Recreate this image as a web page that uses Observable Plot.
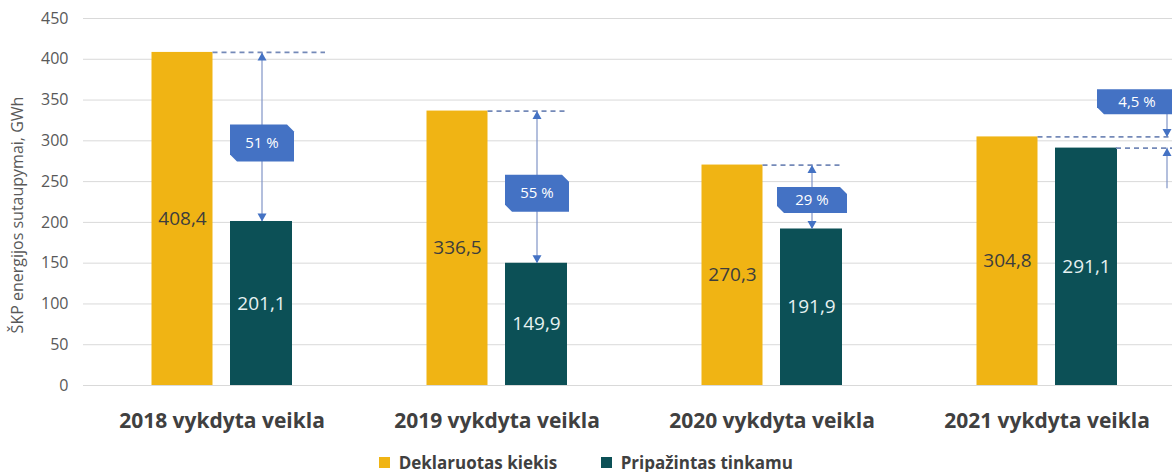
<!DOCTYPE html>
<html><head><meta charset="utf-8">
<script src="https://cdn.jsdelivr.net/npm/d3@7"></script>
<script src="https://cdn.jsdelivr.net/npm/@observablehq/plot@0.6"></script>
<style>
html,body{margin:0;padding:0;background:#fff;}
#chart svg{display:block;}
#chart g[aria-label="x-axis"] text, #chart g[aria-label="x-axis tick label"] text {font-size:21px;font-weight:700;fill:#404040;}
#chart g[aria-label="y-axis"] text, #chart g[aria-label="y-axis tick label"] text {font-size:16px;fill:#595959;}
#legend .lg-swatches{display:flex;justify-content:center;align-items:center;font-family:"Open Sans",sans-serif;font-size:17px;font-weight:700;color:#404040;margin:6px 0 0 0;min-height:32px;}
#legend .lg-swatch{margin-right:44px;}
#legend .lg-swatch:last-child{margin-right:0;}
</style></head>
<body><div id="chart"></div><div id="legend"></div>
<script>
// ---- data ----
const groups = ["2018 vykdyta veikla", "2019 vykdyta veikla", "2020 vykdyta veikla", "2021 vykdyta veikla"];
const declared = [408.4, 336.5, 270.3, 304.8];
const approved = [201.1, 149.9, 191.9, 291.1];
const gapLabels = ["51 %", "55 %", "29 %", "4,5 %"];
const series = ["Deklaruotas kiekis", "Pripažintas tinkamu"];
const yTicks = [0, 50, 100, 150, 200, 250, 300, 350, 400, 450];
const yLabel = "ŠKP energijos sutaupymai, GWh";

// ---- styles ----
const YELLOW = "#F0B414", TEAL = "#0C5056", BLUE = "#4472C4", DASH = "#7489b8", ARROW = "#8094c6";

const rows = groups.map((group, i) => ({
  group, declared: declared[i], approved: approved[i], gap: gapLabels[i],
  mid: (declared[i] + approved[i]) / 2
}));
const first = rows.slice(0, 1);
const middle = rows.slice(1, 3);
const inner = rows.slice(0, 3);
const big = rows.slice(0, 2);
const small = rows.slice(2, 3);
const last = rows.slice(3);
const fmt = v => d3.format(".1f")(v).replace(".", ",");

function callout(w, h, c = 7) {
  return {draw(ctx) {
    ctx.moveTo(-w / 2, -h / 2); ctx.lineTo(w / 2 - c, -h / 2); ctx.lineTo(w / 2, -h / 2 + c);
    ctx.lineTo(w / 2, h / 2); ctx.lineTo(-w / 2 + c, h / 2); ctx.lineTo(-w / 2, h / 2 - c); ctx.closePath();
  }};
}
const headUp = {draw(ctx) { ctx.moveTo(0, 0); ctx.lineTo(4.5, 8); ctx.lineTo(-4.5, 8); ctx.closePath(); }};
const headDown = {draw(ctx) { ctx.moveTo(0, 0); ctx.lineTo(4.5, -8); ctx.lineTo(-4.5, -8); ctx.closePath(); }};
const dash = {stroke: DASH, strokeWidth: 1.7, strokeDasharray: "5,4"};
const LIFT = 43; // 2021 callout sits above the declared line (GWh)
const TAIL = 50; // 2021 lower arrow tail length (GWh)

const chart = Plot.plot({
  width: 1172, height: 440,
  marginTop: 18, marginBottom: 55, marginLeft: 83, marginRight: 0,
  style: {fontFamily: "'Open Sans', sans-serif", background: "#fff", color: "#595959", overflow: "hidden"},
  x: {type: "band", domain: groups, range: [84, 1184], padding: 0, round: false, label: null, tickSize: 0, tickPadding: 28},
  y: {domain: [0, 450], ticks: yTicks, tickSize: 0, tickPadding: 15, label: null},
  marks: [
    Plot.ruleY(yTicks, {stroke: "#d9d9d9", strokeWidth: 1}),
    Plot.text([yLabel], {frameAnchor: "left", textAnchor: "middle", text: d => d, rotate: -90, dx: -66, dy: 13, fontSize: 16, fill: "#595959"}),
    Plot.barY(rows, {x: "group", y: "declared", fill: YELLOW, insetLeft: 67.5, insetRight: 146.5}),
    Plot.barY(rows, {x: "group", y: "approved", fill: TEAL, insetLeft: 146, insetRight: 67}),
    Plot.text(rows, {x: "group", y: d => d.declared / 2, text: d => fmt(d.declared), dx: -39.5, fill: "#3d3d3d", fontSize: 19}),
    Plot.text(rows, {x: "group", y: d => d.approved / 2, text: d => fmt(d.approved), dx: 39.5, fill: "#e6f2f2", fontSize: 19}),
    // dashed reference lines
    Plot.ruleY(first, {x1: "group", x2: "group", y: "declared", insetLeft: 128.5, insetRight: 34, ...dash}),
    Plot.ruleY(middle, {x1: "group", x2: "group", y: "declared", insetLeft: 128.5, insetRight: 67, ...dash}),
    Plot.ruleY(last, {x1: "group", x2: "group", y: "declared", insetLeft: 128.5, insetRight: 0, ...dash}),
    Plot.ruleY(last, {x1: "group", x2: "group", y: "approved", insetLeft: 207, insetRight: 0, ...dash}),
    // double arrows 2018-2020
    Plot.ruleX(inner, {x: "group", y1: "approved", y2: "declared", dx: 40, stroke: ARROW, strokeWidth: 1.2}),
    Plot.dot(inner, {x: "group", y: "declared", symbol: headUp, fill: BLUE, stroke: "none", dx: 40}),
    Plot.dot(inner, {x: "group", y: "approved", symbol: headDown, fill: BLUE, stroke: "none", dx: 40}),
    Plot.dot(big, {x: "group", y: "mid", symbol: callout(64, 37), fill: BLUE, stroke: "none", dx: 40, dy: 6}),
    Plot.dot(small, {x: "group", y: "mid", symbol: callout(70, 26), fill: BLUE, stroke: "none", dx: 40, dy: 3}),
    Plot.text(big, {x: "group", y: "mid", text: "gap", dx: 40, dy: 6, fill: "#fff", fontSize: 15}),
    Plot.text(small, {x: "group", y: "mid", text: "gap", dx: 40, dy: 3, fill: "#fff", fontSize: 15}),
    // 2021 arrows
    Plot.ruleX(last, {x: "group", y1: "declared", y2: d => d.declared + LIFT, dx: 120, stroke: ARROW, strokeWidth: 1.2}),
    Plot.ruleX(last, {x: "group", y1: d => d.approved - TAIL, y2: "approved", dx: 120, stroke: ARROW, strokeWidth: 1.2}),
    Plot.dot(last, {x: "group", y: "declared", symbol: headDown, fill: BLUE, stroke: "none", dx: 120}),
    Plot.dot(last, {x: "group", y: "approved", symbol: headUp, fill: BLUE, stroke: "none", dx: 120}),
    Plot.dot(last, {x: "group", y: d => d.declared + LIFT, symbol: callout(84, 25), fill: BLUE, stroke: "none", dx: 92}),
    Plot.text(last, {x: "group", y: d => d.declared + LIFT, text: "gap", dx: 90, fill: "#fff", fontSize: 15})
  ]
});
document.getElementById("chart").append(chart);

const legend = Plot.legend({
  color: {type: "ordinal", domain: series, range: [YELLOW, TEAL]},
  className: "lg", swatchSize: 11
});
document.getElementById("legend").append(legend);
</script></body></html>
